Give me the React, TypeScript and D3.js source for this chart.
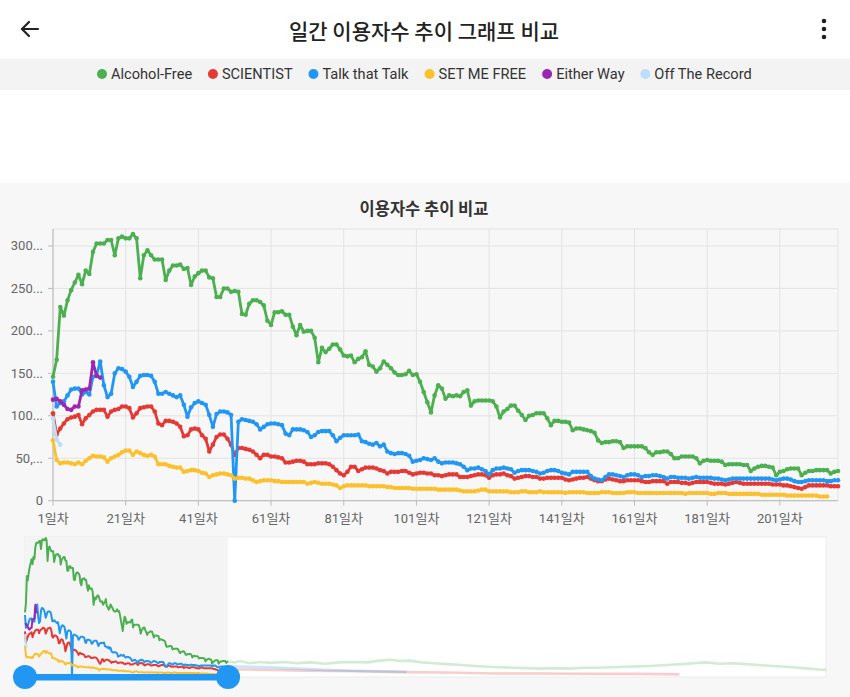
import React from 'react';
import * as d3 from 'd3';

// daily users (thousands), day 1 .. day N
const alcoholFree = [
  146, 166, 228, 218, 236, 248, 257, 266, 255, 271,
  267, 293, 303, 303, 303, 307, 307, 289, 309, 311,
  309, 309, 314, 309, 262, 289, 295, 289, 284, 284,
  284, 260, 271, 277, 277, 278, 273, 274, 254, 264,
  268, 271, 271, 263, 262, 240, 240, 250, 250, 246,
  247, 246, 220, 219, 232, 236, 236, 234, 230, 212,
  207, 222, 222, 223, 219, 219, 205, 195, 207, 199,
  200, 200, 192, 163, 180, 175, 179, 184, 184, 178,
  171, 170, 171, 163, 167, 169, 176, 160, 158, 152,
  156, 164, 160, 156, 151, 148, 148, 149, 153, 148,
  149, 140, 128, 116, 104, 124, 136, 132, 120, 124,
  123, 124, 123, 128, 130, 112, 117, 118, 118, 118,
  118, 117, 111, 98, 105, 108, 112, 112, 106, 101,
  95, 100, 101, 103, 103, 103, 97, 89, 94, 94,
  93, 93, 92, 83, 85, 85, 84, 83, 82, 80,
  71, 68, 69, 69, 70, 70, 69, 62, 64, 64,
  64, 64, 64, 62, 57, 54, 57, 57, 58, 58,
  55, 50, 50, 52, 52, 52, 52, 50, 44, 47,
  48, 47, 47, 47, 46, 42, 43, 43, 43, 43,
  42, 42, 35, 38, 40, 41, 41, 40, 39, 30,
  34, 35, 37, 38, 38, 38, 30, 33, 35, 35,
  36, 36, 36, 36, 32, 34, 35,
];

const scientist = [
  103, 78, 85, 91, 96, 98, 99, 101, 90, 97,
  101, 105, 107, 107, 107, 99, 105, 107, 108, 111,
  111, 109, 98, 103, 109, 110, 111, 111, 105, 91,
  89, 94, 94, 93, 91, 87, 76, 77, 84, 85,
  84, 77, 73, 58, 66, 75, 78, 78, 73, 66,
  54, 62, 62, 61, 60, 58, 54, 50, 54, 54,
  52, 52, 51, 50, 45, 45, 46, 47, 47, 46,
  43, 43, 43, 44, 44, 44, 43, 40, 36, 32,
  30, 34, 40, 40, 35, 37, 39, 39, 39, 38,
  36, 35, 32, 34, 34, 34, 35, 35, 33, 31,
  32, 33, 33, 32, 32, 30, 30, 29, 30, 31,
  31, 31, 28, 28, 28, 29, 30, 31, 31, 30,
  27, 30, 31, 31, 32, 30, 29, 26, 27, 28,
  29, 29, 28, 28, 26, 26, 27, 27, 27, 27,
  27, 25, 24, 25, 26, 27, 27, 28, 26, 24,
  23, 23, 25, 26, 25, 24, 23, 23, 24, 24,
  24, 24, 23, 22, 22, 23, 23, 23, 23, 20,
  22, 22, 22, 21, 21, 20, 21, 22, 22, 22,
  22, 21, 20, 20, 20, 19, 20, 21, 22, 21,
  20, 20, 20, 20, 20, 20, 20, 20, 19, 19,
  19, 18, 18, 17, 16, 15, 14, 16, 18, 18,
  18, 18, 18, 18, 17, 17, 17,
];

const talkThatTalk = [
  140, 111, 115, 117, 124, 131, 132, 132, 125, 128,
  125, 146, 148, 164, 136, 122, 126, 150, 156, 155,
  152, 146, 134, 140, 147, 148, 148, 147, 140, 126,
  126, 128, 126, 124, 122, 124, 113, 99, 110, 115,
  117, 115, 113, 101, 87, 102, 105, 105, 104, 101,
  0, 93, 96, 95, 94, 93, 90, 84, 87, 90,
  91, 91, 90, 89, 79, 77, 84, 84, 84, 83,
  81, 75, 77, 81, 82, 82, 82, 77, 70, 74,
  77, 77, 77, 77, 78, 70, 69, 67, 66, 68,
  64, 66, 58, 56, 55, 56, 56, 55, 53, 46,
  47, 48, 50, 49, 48, 50, 46, 44, 45, 45,
  45, 44, 43, 40, 36, 38, 38, 39, 37, 35,
  31, 36, 38, 38, 39, 38, 37, 33, 35, 36,
  36, 36, 35, 34, 32, 33, 35, 36, 36, 35,
  33, 32, 31, 34, 34, 34, 34, 34, 29, 26,
  25, 24, 28, 31, 31, 30, 29, 28, 30, 31,
  31, 30, 28, 29, 29, 30, 30, 29, 28, 26,
  28, 28, 27, 27, 27, 26, 27, 28, 27, 27,
  27, 27, 26, 26, 25, 24, 25, 26, 26, 26,
  26, 26, 26, 26, 26, 26, 26, 26, 25, 24,
  25, 26, 26, 25, 23, 22, 22, 23, 24, 24,
  24, 24, 24, 23, 23, 24, 24,
];

const setMeFree = [
  71, 48, 44, 45, 45, 44, 43, 45, 43, 47,
  50, 53, 52, 52, 51, 46, 50, 52, 54, 57,
  59, 59, 54, 58, 56, 54, 53, 54, 52, 43,
  43, 43, 41, 40, 39, 39, 34, 35, 36, 36,
  35, 33, 32, 28, 30, 31, 32, 32, 31, 30,
  26, 27, 27, 26, 26, 24, 22, 23, 24, 24,
  24, 23, 23, 22, 22, 22, 22, 22, 22, 22,
  20, 21, 22, 21, 20, 20, 20, 19, 18, 15,
  17, 18, 18, 18, 18, 18, 18, 17, 17, 17,
  17, 17, 16, 16, 15, 15, 15, 15, 15, 14,
  14, 14, 14, 14, 14, 14, 13, 13, 13, 13,
  13, 13, 12, 11, 11, 11, 11, 12, 13, 13,
  11, 11, 11, 11, 11, 11, 10, 10, 10, 11,
  11, 10, 10, 10, 11, 10, 10, 10, 10, 10,
  10, 9, 10, 10, 10, 10, 10, 9, 9, 9,
  9, 10, 10, 10, 9, 9, 9, 9, 10, 10,
  10, 9, 9, 9, 9, 9, 9, 9, 9, 9,
  9, 9, 9, 9, 8, 9, 9, 9, 9, 9,
  9, 8, 8, 9, 9, 9, 8, 8, 8, 8,
  8, 8, 8, 8, 8, 7, 7, 7, 7, 7,
  7, 7, 6, 6, 6, 6, 6, 6, 6, 6,
  6, 5, 5, 5,
];

const eitherWay = [119, 120, 117, 113, 108, 107, 111, 111, 130, 131, 132, 163, 147, 145];

const offTheRecord = [97, 72, 66];

// later days, only seen (faded) in the zoom slider: [day, value]
const alcoholFreeTail = [
  [224, 33], [230, 36], [240, 31], [252, 34], [263, 32], [277, 34], [290, 31],
  [305, 33], [320, 30], [335, 33], [350, 34], [365, 33], [378, 37], [390, 39],
  [400, 36], [410, 37], [423, 33], [436, 31], [450, 29], [465, 27], [480, 25],
  [494, 23], [507, 22], [520, 21], [535, 20], [551, 19], [565, 20], [580, 19],
  [595, 21], [609, 21], [625, 22], [640, 23], [653, 24], [666, 25], [683, 27],
  [700, 29], [712, 31], [725, 33], [740, 30], [754, 31], [768, 29], [782, 27],
  [796, 25], [811, 23], [824, 21], [835, 19], [845, 17], [853, 16],
];
const scientistTail = [
  [240, 17], [260, 16], [300, 14], [350, 13], [400, 11], [450, 10], [500, 8],
  [550, 8], [600, 7], [650, 7], [697, 6],
];
const talkThatTalkTail = [[240, 23], [260, 22], [290, 19], [320, 16], [350, 14], [380, 13], [407, 12]];

const totalDays = 853;
const windowEnd = 217;

const xTickDays = [1, 21, 41, 61, 81, 101, 121, 141, 161, 181, 201];
const yTicks = [0, 50, 100, 150, 200, 250, 300];
const yTickLabels = ['0', '50,...', '100...', '150...', '200...', '250...', '300...'];

const series = [
  { name: 'Alcohol-Free', color: '#4caf50', values: alcoholFree, tail: alcoholFreeTail },
  { name: 'SCIENTIST', color: '#e53935', values: scientist, tail: scientistTail },
  { name: 'Talk that Talk', color: '#2196f3', values: talkThatTalk, tail: talkThatTalkTail },
  { name: 'SET ME FREE', color: '#fbc02d', values: setMeFree, tail: [] as number[][] },
  { name: 'Either Way', color: '#9c27b0', values: eitherWay, tail: [] as number[][] },
  { name: 'Off The Record', color: '#bbdefb', values: offTheRecord, tail: [] as number[][] },
];

const FONT = "Roboto, 'Noto Sans CJK KR', sans-serif";
const KFONT = "'Noto Sans CJK KR', Roboto, sans-serif";

const LEGEND_FONT = 14.6;

function measure(text: string, font: string) {
  const c = document.createElement('canvas').getContext('2d');
  if (!c) return text.length * 7;
  c.font = font;
  return c.measureText(text).width;
}

export default function App() {
  const W = 850;
  const H = 697;

  // main plot
  const x = d3.scaleLinear().domain([1, windowEnd]).range([53, 838]);
  const y = d3.scaleLinear().domain([0, 320]).range([500.7, 229]);

  // zoom slider
  const mx = d3.scaleLinear().domain([1, totalDays]).range([25, 826]);
  const my = d3.scaleLinear().domain([0, 314]).range([677, 538]);

  const line = d3.line<number>().x((_, i) => x(i + 1)).y(d => y(d));
  const miniLine = d3.line<number>().x((_, i) => mx(i + 1)).y(d => my(d));
  const tailLine = d3.line<number[]>().x(d => mx(d[0])).y(d => my(d[1]));

  const winX0 = mx(1);
  const winX1 = mx(windowEnd);

  // legend layout: dot + text, spread across 97..752
  const tw = series.map(s => measure(s.name, `${LEGEND_FONT}px Roboto`));
  const legLeft = 97;
  const legRight = 752;
  const legGap = (legRight - legLeft - d3.sum(tw.map(w => w + 14))) / (series.length - 1);
  const legStarts: number[] = [];
  let cur = legLeft;
  tw.forEach(w => {
    legStarts.push(cur);
    cur += w + 14 + legGap;
  });

  return (
    <svg width={W} height={H} style={{ position: 'absolute', left: 0, top: 0, background: '#fff' }}>
      {/* app bar */}
      <rect x={0} y={0} width={W} height={58} fill="#fff" />
      <g stroke="#222" strokeWidth={2.2} fill="none" strokeLinecap="round" strokeLinejoin="round">
        <line x1={22} y1={29} x2={38} y2={29} />
        <polyline points="29,22 22,29 29,36" />
      </g>
      <text x={424} y={30} textAnchor="middle" dominantBaseline="central" fontFamily={KFONT} fontSize={21} fontWeight={500} fill="#222">
        일간 이용자수 추이 그래프 비교
      </text>
      {[21, 29, 37].map(cy => <circle key={cy} cx={824} cy={cy} r={2.3} fill="#222" />)}

      {/* legend bar */}
      <rect x={0} y={59} width={W} height={31} fill="#f3f3f3" />
      {series.map((s, i) => (
        <g key={s.name}>
          <circle cx={legStarts[i] + 5} cy={74} r={5} fill={s.color} />
          <text x={legStarts[i] + 14} y={74} dominantBaseline="central" fontFamily={FONT} fontSize={LEGEND_FONT} fill="#333">
            {s.name}
          </text>
        </g>
      ))}

      {/* chart card */}
      <rect x={0} y={183} width={W} height={H - 183} fill="#f7f7f7" />
      <text x={424} y={208} textAnchor="middle" dominantBaseline="central" fontFamily={KFONT} fontSize={16.5} fontWeight={700} fill="#333">
        이용자수 추이 비교
      </text>

      {/* grid */}
      <rect x={53} y={229} width={838 - 53} height={500.7 - 229} fill="none" stroke="#e3e3e3" />
      {yTicks.map(t => (
        <line key={t} x1={53} x2={838} y1={y(t)} y2={y(t)} stroke="#e3e3e3" strokeWidth={1} />
      ))}
      {xTickDays.map(d => (
        <line key={d} x1={x(d)} x2={x(d)} y1={229} y2={500.7} stroke="#e3e3e3" strokeWidth={1} />
      ))}

      {/* axes */}
      <line x1={53} x2={53} y1={229} y2={500.7} stroke="#bbb" />
      <line x1={53} x2={838} y1={500.7} y2={500.7} stroke="#bbb" />
      {yTicks.map((t, i) => (
        <g key={t}>
          <line x1={48} x2={53} y1={y(t)} y2={y(t)} stroke="#bbb" />
          <text x={43} y={y(t)} textAnchor="end" dominantBaseline="central" fontFamily={FONT} fontSize={13} fill="#666">
            {yTickLabels[i]}
          </text>
        </g>
      ))}
      {xTickDays.map(d => (
        <g key={d}>
          <line x1={x(d)} x2={x(d)} y1={500.7} y2={505.7} stroke="#bbb" />
          <text x={x(d)} y={518} textAnchor="middle" dominantBaseline="central" fontFamily={FONT} fontSize={13} fill="#666">
            {`${d}일차`}
          </text>
        </g>
      ))}

      {/* series */}
      {series.map(s => (
        <g key={s.name}>
          <path d={line(s.values) || ''} fill="none" stroke={s.color} strokeWidth={2.8} strokeLinejoin="round" />
          {s.values.map((v, i) => (
            <circle key={i} cx={x(i + 1)} cy={y(v)} r={2.3} fill={s.color} />
          ))}
        </g>
      ))}

      {/* zoom slider */}
      <rect x={25} y={537} width={826 - 25} height={677 - 537} fill="#fff" stroke="#ececec" />
      <rect x={winX0} y={537} width={winX1 - winX0} height={677 - 537} fill="#f4f4f4" />
      {series.map(s => {
        const last = s.values.length;
        const tailPts = s.tail.length ? [[last, s.values[last - 1]], ...s.tail] : [];
        return (
          <g key={s.name}>
            {tailPts.length > 0 && (
              <path d={tailLine(tailPts) || ''} fill="none" stroke={s.color} strokeOpacity={0.25} strokeWidth={2.6} />
            )}
            <path d={miniLine(s.values) || ''} fill="none" stroke={s.color} strokeWidth={2} strokeLinejoin="round" />
          </g>
        );
      })}
      <rect x={winX0} y={674} width={winX1 - winX0} height={6.5} fill="#2196f3" />
      <circle cx={winX0} cy={677} r={12} fill="#2196f3" />
      <circle cx={winX1} cy={677} r={12} fill="#2196f3" />
    </svg>
  );
}
